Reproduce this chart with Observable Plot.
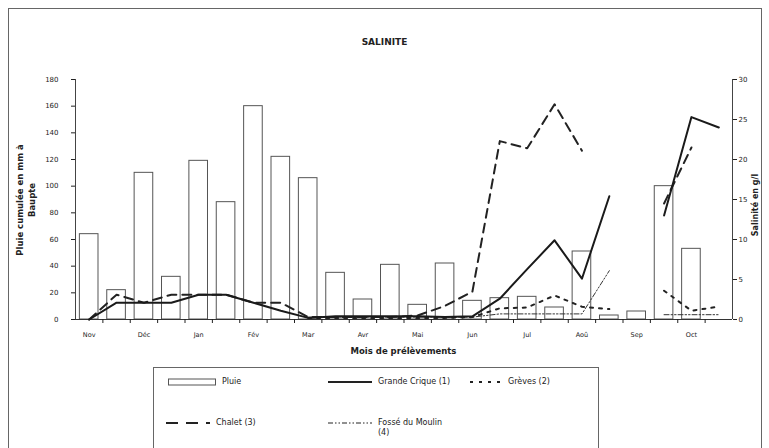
<!DOCTYPE html>
<html><head><meta charset="utf-8">
<script src="https://cdn.jsdelivr.net/npm/d3@7"></script>
<script src="https://cdn.jsdelivr.net/npm/@observablehq/plot@0.6"></script>
<style>
body{margin:0;background:#fff;}
#wrap{position:relative;width:769px;height:448px;overflow:hidden;font-family:"DejaVu Sans",sans-serif;color:#222;}
#frame{position:absolute;left:8px;top:8px;width:752px;height:470px;border:1px solid #666;}
#chart{position:absolute;left:0;top:0;}
.lbl{position:absolute;white-space:nowrap;}
#title{left:0;width:769px;top:37px;text-align:center;font-weight:bold;font-size:9px;}
#xlab{left:75px;width:657px;top:346px;text-align:center;font-weight:bold;font-size:8.5px;}
#ylab{left:26px;top:200px;transform:translate(-50%,-50%) rotate(-90deg);font-weight:bold;font-size:8.5px;text-align:center;line-height:12px;}
#ylab2{left:755px;top:205px;transform:translate(-50%,-50%) rotate(-90deg);font-weight:bold;font-size:8px;}
#legend{position:absolute;left:153px;top:367px;width:444px;height:100px;border:1px solid #666;font-size:8px;}
#legend .it{position:absolute;white-space:nowrap;line-height:10px;}
#legend svg{position:absolute;}
</style></head>
<body>
<div id="wrap">
  <div id="frame"></div>
  <div id="chart"></div>
  <div class="lbl" id="title">SALINITE</div>
  <div class="lbl" id="xlab">Mois de prélèvements</div>
  <div class="lbl" id="ylab">Pluie cumulée en mm à<br>Baupte</div>
  <div class="lbl" id="ylab2">Salinité en g/l</div>
  <div id="legend"></div>
</div>
<script>
// Half-month slots: two per month, Nov -> Oct
const months = ["Nov","Déc","Jan","Fév","Mar","Avr","Mai","Jun","Jul","Aoû","Sep","Oct"];
// Pluie cumulée (mm) per half-month slot
const pluie = [64,22,110,32,119,88,160,122,106,35,15,41,11,42,14,16,17,9,51,3,6,100,53,null];
// Salinité (g/l)
const grandeCrique = [0,2.1,2.1,2.1,3.1,3.1,2.1,1.1,0.2,0.4,0.4,0.4,0.4,0.3,0.4,2.6,6.3,9.9,5.1,15.4,null,13.0,25.3,24.0];
const greves = [null,null,null,null,null,null,null,null,0.2,0.2,0.2,0.2,0.2,0.2,0.3,1.4,1.5,3.0,1.6,1.3,null,3.6,1.1,1.6];
const chalet = [0,3.1,2.1,3.1,3.1,3.1,2.1,2.1,0.3,0.3,0.3,0.3,0.5,1.7,3.5,22.3,21.4,26.9,21.1,null,null,14.5,21.5,null];
const fosse = [null,null,null,null,null,null,null,null,0.3,0.3,0.3,0.3,0.3,0.3,0.3,0.7,0.7,0.7,0.7,6.1,null,0.6,0.6,0.6];
const leftTicks = [0,20,40,60,80,100,120,140,160,180];
const rightTicks = [0,5,10,15,20,25,30];

const k = 180/30; // salinity -> left scale
const rows = pluie.map((p,i)=>({i, pluie:p}));
const ser = (arr)=>arr.map((v,i)=>({i, v: v==null?NaN:v*k}));

const chart = Plot.plot({
  width:769, height:365,
  marginLeft:75, marginRight:37, marginTop:79, marginBottom:46,
  style:{fontFamily:"DejaVu Sans, sans-serif", fontSize:"7px", color:"#222", background:"transparent"},
  x:{type:"linear", domain:[-0.5,23.5], axis:null},
  y:{domain:[0,180], axis:null},
  marks:[
    Plot.rectY(rows.filter(d=>d.pluie!=null), {x1:d=>d.i-0.34, x2:d=>d.i+0.34, y:"pluie", fill:"white", stroke:"#555", strokeWidth:1}),
    Plot.ruleX([-0.5,23.5], {stroke:"#444"}),
    Plot.ruleY([0], {stroke:"#333"}),
    Plot.axisY({anchor:"left", label:null, ticks:leftTicks, tickSize:4, tickPadding:13, fontSize:7}),
    Plot.axisY({anchor:"right", label:null, ticks:rightTicks.map(v=>v*k), tickFormat:d=>d/k, tickSize:4, tickPadding:2, fontSize:7}),
    Plot.axisX({label:null, ticks:d3.range(0.5,23,1), tickSize:4, tickFormat:()=>"" }),
    Plot.axisX({label:null, ticks:d3.range(0,24,2), tickSize:0, tickPadding:13, tickFormat:d=>months[d/2], fontSize:6.5, fill:"#222"}),
    Plot.line(ser(fosse), {x:"i", y:"v", stroke:"#333", strokeWidth:1, strokeDasharray:"5,2,1.5,2,1.5,2"}),
    Plot.line(ser(greves), {x:"i", y:"v", stroke:"#222", strokeWidth:2, strokeDasharray:"3,6"}),
    Plot.line(ser(chalet), {x:"i", y:"v", stroke:"#222", strokeWidth:2, strokeDasharray:"9,6"}),
    Plot.line(ser(grandeCrique), {x:"i", y:"v", stroke:"#1a1a1a", strokeWidth:2})
  ]
});
document.getElementById("chart").appendChild(chart);

// Legend
const legendItems = [
  {name:"Pluie", type:"bar", x:14, y:14},
  {name:"Grande Crique (1)", type:"line", dash:null, w:2, x:174, y:14},
  {name:"Grèves (2)", type:"line", dash:"3,6", w:2, x:316, y:14, sw:32},
  {name:"Chalet (3)", type:"line", dash:"12,8", w:2, x:12, y:55},
  {name:"Fossé du Moulin<br>(4)", type:"line", dash:"5,2,1.5,2,1.5,2", w:1, x:174, y:55}
];
const lg = document.getElementById("legend");
for (const it of legendItems) {
  const sw = it.sw || (it.type==="bar"?48:44);
  const s = d3.create("svg").attr("width", sw).attr("height", 10)
    .style("left", it.x+"px").style("top", (it.y-5)+"px");
  if (it.type==="bar") s.append("rect").attr("x",0.5).attr("y",2).attr("width",sw-1).attr("height",6).attr("fill","white").attr("stroke","#555");
  else s.append("line").attr("x1",0).attr("x2",sw).attr("y1",5).attr("y2",5).attr("stroke","#222").attr("stroke-width",it.w).attr("stroke-dasharray",it.dash);
  lg.appendChild(s.node());
  const t = document.createElement("div");
  t.className = "it"; t.innerHTML = it.name;
  t.style.left = (it.x+sw+6)+"px"; t.style.top = (it.y-5)+"px";
  lg.appendChild(t);
}
</script>
</body></html>
